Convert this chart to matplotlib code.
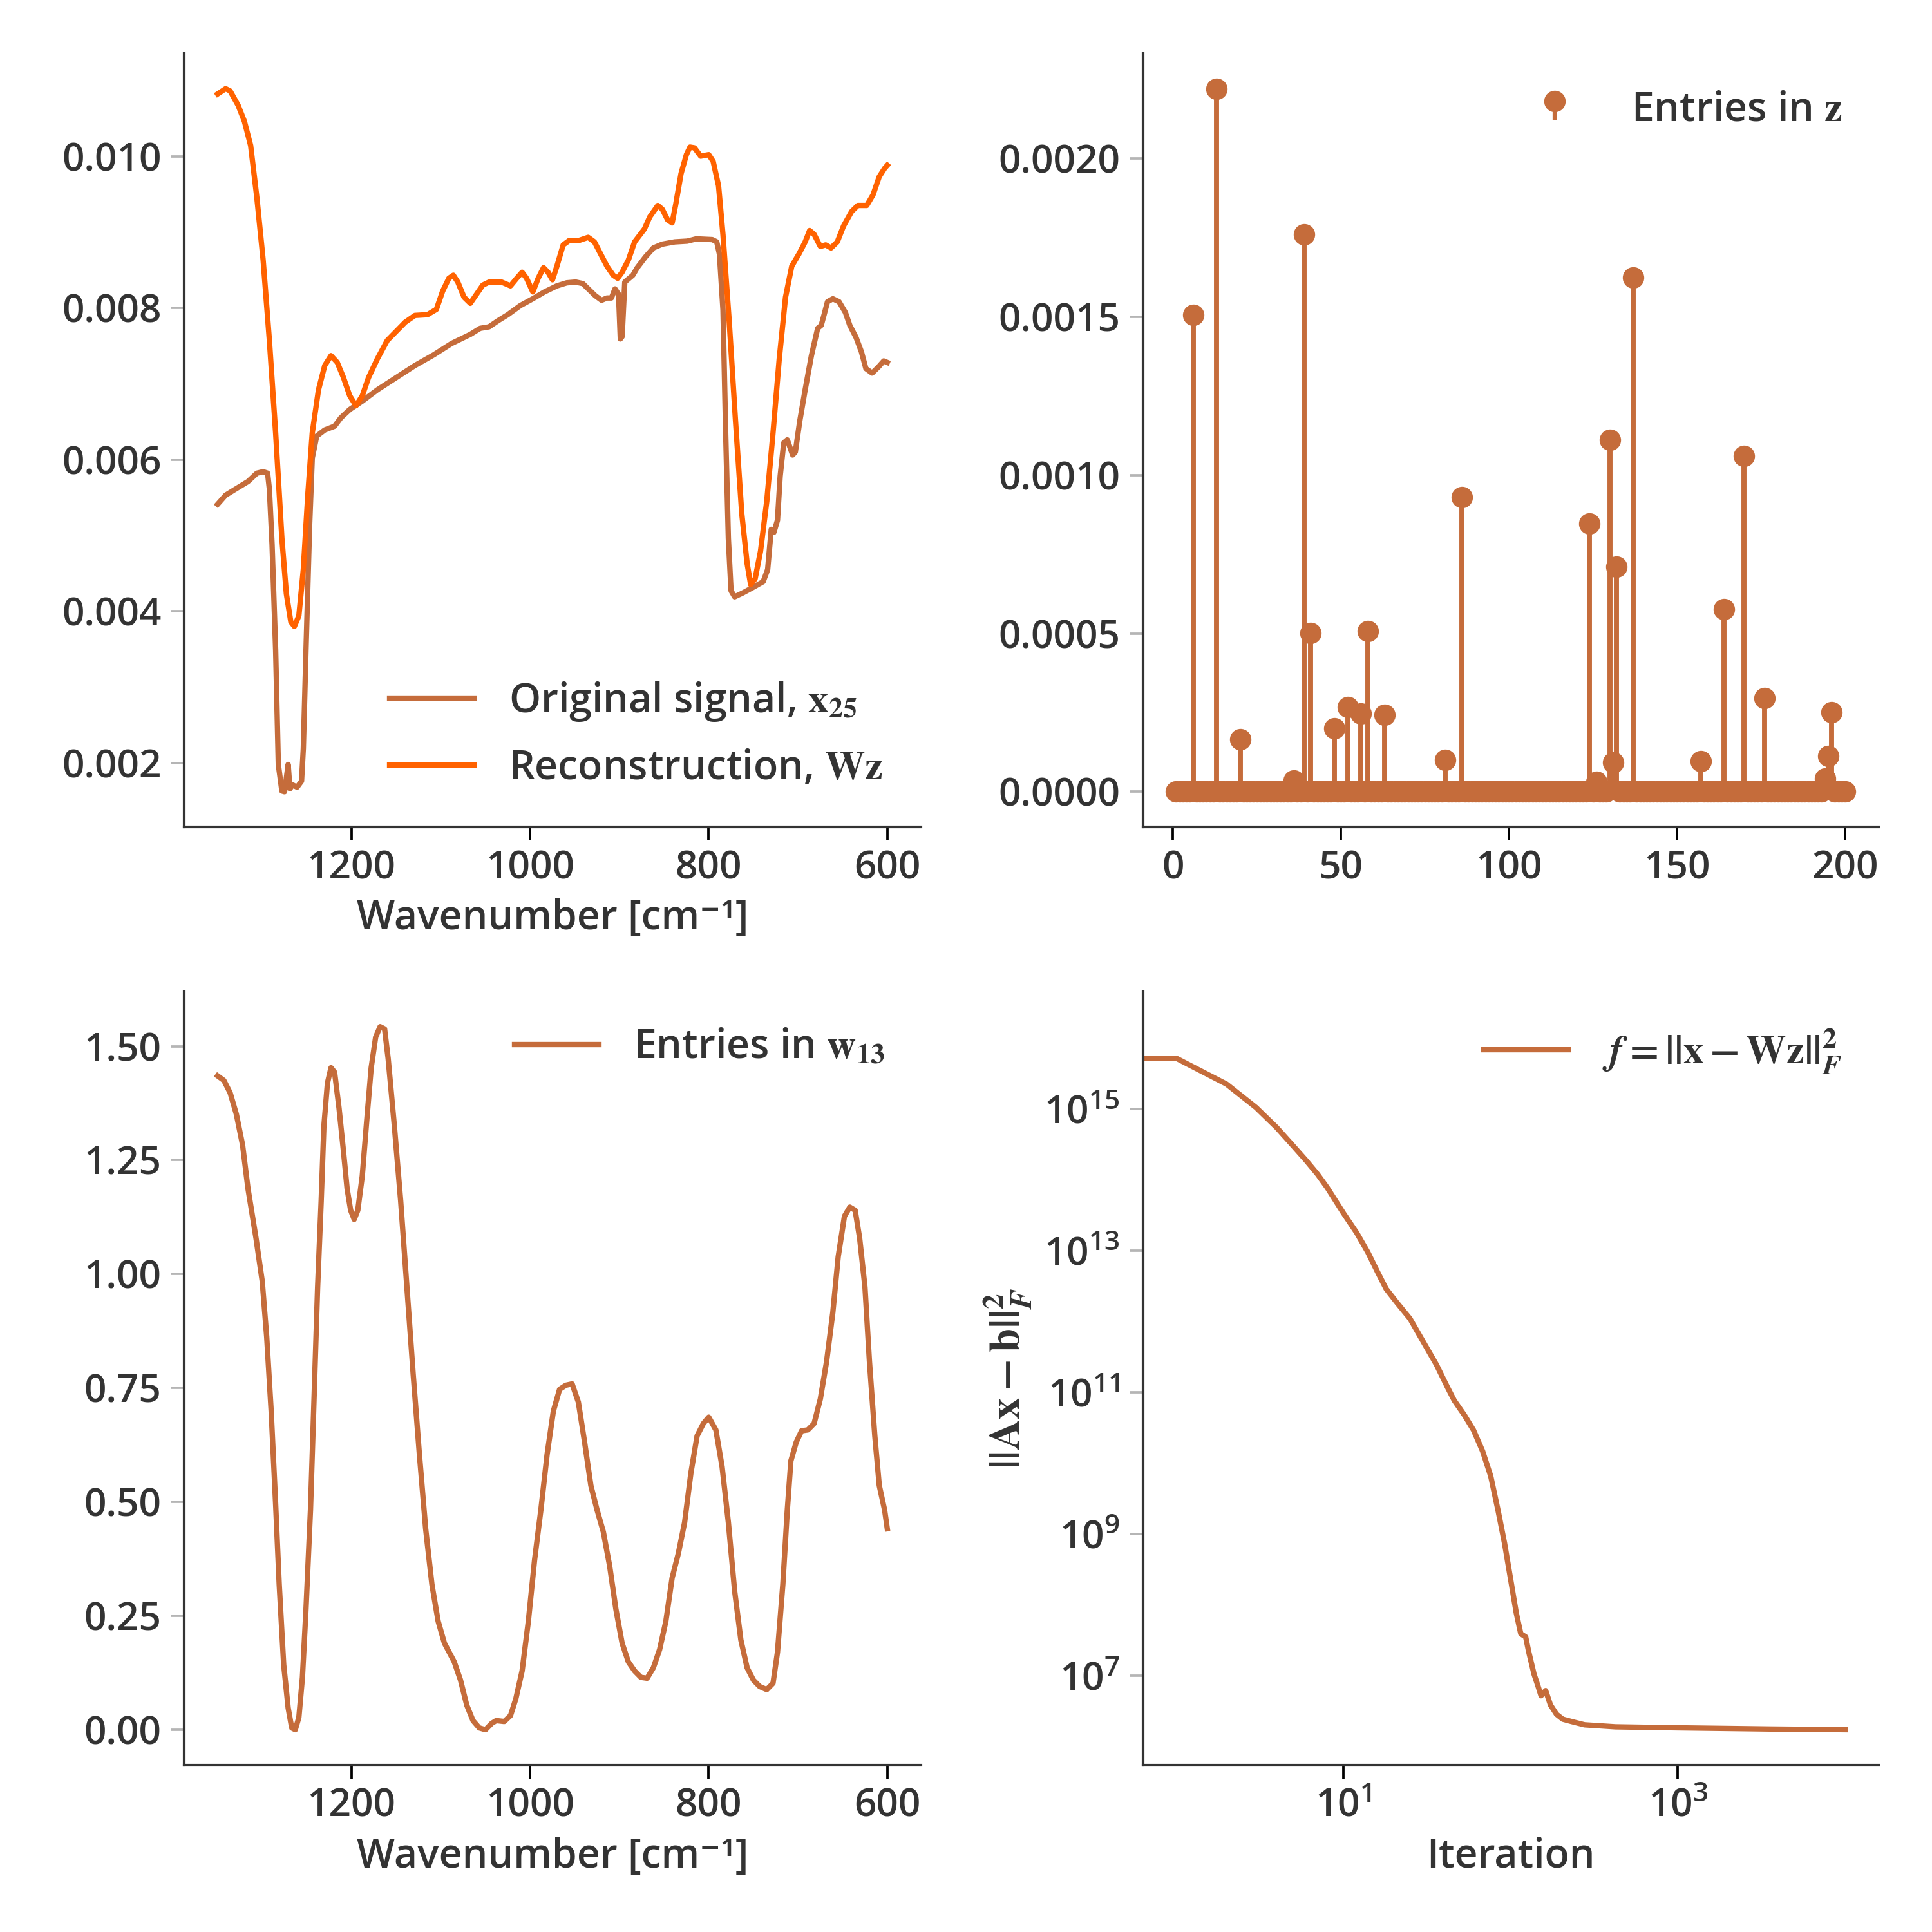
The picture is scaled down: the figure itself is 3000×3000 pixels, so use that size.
import numpy as np
import matplotlib
matplotlib.use("Agg")
import matplotlib.pyplot as plt
from matplotlib import font_manager
from matplotlib.ticker import FixedLocator, NullLocator, MultipleLocator

BROWN = "#c56c3b"
ORANGE = "#ff6200"
TEXT = "#333333"

# ---- top left: original signal x_25 and reconstruction Wz  (wavenumber, value)
orig_signal = [
    (1350, 0.00541), (1341, 0.00553), (1330, 0.00561), (1316, 0.00571), (1306, 0.00582),
    (1299, 0.00584), (1294, 0.00582), (1292, 0.00561), (1289, 0.00488), (1285, 0.00349),
    (1282, 0.00198), (1278, 0.00163), (1275, 0.00162), (1271, 0.00198), (1269, 0.00166),
    (1266, 0.00171), (1261, 0.00168), (1256, 0.00176), (1254, 0.00219), (1251, 0.00349),
    (1247, 0.00512), (1244, 0.00602), (1239, 0.00631), (1230, 0.00639), (1219, 0.00644),
    (1212, 0.00655), (1202, 0.00666), (1188, 0.00677), (1171, 0.00692), (1150, 0.00708),
    (1129, 0.00724), (1108, 0.00738), (1088, 0.00753), (1067, 0.00765), (1056, 0.00773),
    (1046, 0.00775), (1036, 0.00783), (1025, 0.00791), (1011, 0.00803), (997, 0.00812),
    (984, 0.00821), (970, 0.00829), (959, 0.00833), (949, 0.00834), (941, 0.00832),
    (934, 0.00824), (927, 0.00816), (920, 0.00810), (914, 0.00813), (909, 0.00813),
    (905, 0.00825), (901, 0.00818), (899, 0.00759), (897, 0.00762), (894, 0.00834),
    (885, 0.00843), (880, 0.00853), (871, 0.00867), (862, 0.00879), (852, 0.00884),
    (838, 0.00887), (824, 0.00888), (814, 0.00891), (796, 0.00890), (791, 0.00887),
    (788, 0.00871), (784, 0.00797), (781, 0.00635), (778, 0.00496), (775, 0.00427),
    (771, 0.00419), (762, 0.00424), (751, 0.00431), (739, 0.00439), (734, 0.00455),
    (730, 0.00508), (727, 0.00504), (723, 0.00520), (720, 0.00578), (716, 0.00622),
    (712, 0.00626), (706, 0.00606), (703, 0.00610), (698, 0.00651), (692, 0.00692),
    (685, 0.00737), (678, 0.00773), (674, 0.00777), (671, 0.00790), (667, 0.00808),
    (661, 0.00812), (654, 0.00808), (647, 0.00794), (642, 0.00777), (635, 0.00761),
    (629, 0.00742), (624, 0.00720), (617, 0.00714), (610, 0.00722), (604, 0.00730),
    (600, 0.00728),
]
reconstruction = [
    (1350, 0.01082), (1341, 0.01089), (1336, 0.01086), (1327, 0.01067), (1320, 0.01046),
    (1313, 0.01014), (1306, 0.00945), (1299, 0.00863), (1292, 0.00757), (1285, 0.00635),
    (1278, 0.00496), (1273, 0.00423), (1268, 0.00386), (1264, 0.00380), (1259, 0.00394),
    (1254, 0.00455), (1249, 0.00553), (1244, 0.00635), (1237, 0.00692), (1230, 0.00724),
    (1223, 0.00737), (1216, 0.00728), (1209, 0.00708), (1202, 0.00684), (1195, 0.00671),
    (1188, 0.00684), (1181, 0.00708), (1171, 0.00733), (1160, 0.00757), (1150, 0.00769),
    (1140, 0.00781), (1129, 0.00790), (1115, 0.00791), (1105, 0.00798), (1098, 0.00822),
    (1091, 0.00839), (1086, 0.00843), (1081, 0.00834), (1074, 0.00814), (1067, 0.00806),
    (1060, 0.00818), (1053, 0.00830), (1046, 0.00834), (1032, 0.00834), (1022, 0.00829),
    (1015, 0.00839), (1009, 0.00847), (1004, 0.00839), (997, 0.00821), (991, 0.00839),
    (985, 0.00853), (980, 0.00847), (975, 0.00837), (970, 0.00855), (963, 0.00883),
    (956, 0.00889), (945, 0.00889), (935, 0.00893), (928, 0.00887), (921, 0.00871),
    (914, 0.00855), (907, 0.00843), (902, 0.00839), (897, 0.00847), (890, 0.00863),
    (883, 0.00887), (872, 0.00904), (866, 0.00920), (857, 0.00935), (852, 0.00930),
    (846, 0.00916), (841, 0.00912), (837, 0.00936), (831, 0.00977), (825, 0.01002),
    (821, 0.01012), (816, 0.01011), (809, 0.01000), (800, 0.01002), (795, 0.00993),
    (789, 0.00961), (784, 0.00896), (777, 0.00781), (770, 0.00651), (763, 0.00529),
    (757, 0.00463), (753, 0.00435), (748, 0.00443), (742, 0.00479), (735, 0.00545),
    (728, 0.00635), (721, 0.00733), (714, 0.00814), (707, 0.00855), (699, 0.00871),
    (692, 0.00887), (687, 0.00902), (682, 0.00897), (675, 0.00881), (669, 0.00883),
    (663, 0.00879), (656, 0.00887), (649, 0.00908), (640, 0.00927), (633, 0.00935),
    (623, 0.00935), (616, 0.00949), (609, 0.00973), (603, 0.00984), (600, 0.00988),
]

# ---- top right: nonzero entries of z (index, value); every other index is 0
z_length = 200
z_nonzero = [
    (6, 0.001507), (13, 0.002221), (20, 0.000166), (36, 0.000035), (39, 0.001760),
    (41, 0.000502), (48, 0.000201), (52, 0.000268), (56, 0.000246), (58, 0.000508),
    (63, 0.000242), (81, 0.000100), (86, 0.000931), (124, 0.000847), (126, 0.000031),
    (130, 0.001112), (131, 0.000092), (132, 0.000710), (137, 0.001625), (157, 0.000096),
    (164, 0.000577), (170, 0.001060), (176, 0.000295), (194, 0.000041), (195, 0.000113),
    (196, 0.000252),
]

# ---- bottom left: dictionary atom w_13 (wavenumber, value)
atom_w13 = [
    (1350, 1.435), (1343, 1.425), (1336, 1.398), (1329, 1.351), (1322, 1.283),
    (1316, 1.188), (1307, 1.079), (1300, 0.984), (1295, 0.862), (1290, 0.699),
    (1285, 0.495), (1281, 0.319), (1276, 0.143), (1271, 0.048), (1267, 0.004),
    (1263, 0.000), (1259, 0.027), (1255, 0.115), (1251, 0.265), (1246, 0.482),
    (1242, 0.726), (1238, 0.971), (1234, 1.161), (1231, 1.324), (1227, 1.419),
    (1223, 1.453), (1219, 1.443), (1214, 1.364), (1209, 1.269), (1205, 1.188),
    (1201, 1.140), (1197, 1.120), (1193, 1.140), (1188, 1.215), (1183, 1.337),
    (1178, 1.453), (1173, 1.520), (1168, 1.543), (1163, 1.538), (1159, 1.473),
    (1152, 1.324), (1145, 1.161), (1138, 0.971), (1131, 0.781), (1124, 0.604),
    (1117, 0.441), (1110, 0.319), (1103, 0.238), (1096, 0.190), (1085, 0.149),
    (1078, 0.109), (1071, 0.054), (1064, 0.020), (1057, 0.004), (1050, 0.000),
    (1043, 0.014), (1038, 0.020), (1029, 0.018), (1022, 0.031), (1016, 0.068),
    (1009, 0.129), (1002, 0.238), (995, 0.373), (988, 0.482), (981, 0.604),
    (974, 0.699), (967, 0.747), (960, 0.756), (953, 0.759), (946, 0.719),
    (939, 0.631), (932, 0.536), (925, 0.482), (918, 0.434), (911, 0.360),
    (904, 0.265), (897, 0.190), (890, 0.149), (883, 0.129), (876, 0.115),
    (869, 0.113), (862, 0.136), (855, 0.176), (848, 0.238), (841, 0.333),
    (834, 0.387), (827, 0.455), (820, 0.563), (813, 0.645), (806, 0.672),
    (800, 0.686), (792, 0.658), (785, 0.577), (778, 0.455), (771, 0.305),
    (764, 0.197), (757, 0.136), (750, 0.109), (743, 0.095), (735, 0.088),
    (728, 0.102), (723, 0.170), (717, 0.319), (712, 0.482), (708, 0.590),
    (702, 0.631), (696, 0.656), (689, 0.658), (682, 0.672), (675, 0.726),
    (668, 0.808), (661, 0.916), (655, 1.038), (648, 1.127), (642, 1.147),
    (636, 1.140), (631, 1.079), (625, 0.971), (620, 0.808), (614, 0.645),
    (609, 0.536), (603, 0.482), (600, 0.441),
]

# ---- bottom right: objective per iteration
loss_iter = [0, 1, 2, 3, 4, 5, 6, 7, 8, 10, 12, 14, 16, 18, 21, 25, 30, 36, 42, 46,
             53, 60, 68, 76, 84, 92, 100, 108, 115, 123, 128, 138, 146, 152, 162, 173,
             188, 205, 233, 277, 424, 991, 3557, 10000]
loss_value = [1.45e16, 5.2e15, 2.24e15, 1.05e15, 5.43e14, 3.02e14, 1.86e14, 1.20e14,
              7.76e13, 3.39e13, 1.79e13, 9.5e12, 5.0e12, 2.9e12, 1.82e12, 1.10e12,
              5.2e11, 2.46e11, 1.17e11, 7.7e10, 4.75e10, 2.93e10, 1.48e10, 6.6e9,
              2.19e9, 7.4e8, 2.3e8, 7.8e7, 3.93e7, 3.55e7, 2.24e7, 1.06e7, 7.1e6,
              5.25e6, 6.2e6, 3.9e6, 2.88e6, 2.45e6, 2.26e6, 2.04e6, 1.91e6, 1.85e6,
              1.78e6, 1.74e6]


def pick_font():
    # look for a real semibold face; fall back to bold
    def w(entry):
        if isinstance(entry.weight, str):
            return {"semibold": 600, "demibold": 600, "bold": 700}.get(entry.weight, 400)
        return entry.weight
    for fam in ["Source Sans Pro", "Source Sans 3", "Noto Sans", "Open Sans", "Lato", "Inter"]:
        for f in font_manager.fontManager.ttflist:
            if f.name == fam and f.style == "normal" and w(f) == 600:
                return fam, 600
    return "Noto Sans", "bold"


FONT, WEIGHT = pick_font()

plt.rcParams.update({
    "font.family": [FONT, "DejaVu Sans"],
    "font.weight": WEIGHT,
    "mathtext.fontset": "stix",
    "text.color": TEXT,
    "axes.labelcolor": TEXT,
    "axes.labelweight": WEIGHT,
    "xtick.labelcolor": TEXT,
    "ytick.labelcolor": TEXT,
    "font.size": 14.5,
    "axes.labelsize": 15,
    "legend.fontsize": 15,
})

# double bar for the norms, drawn from two single bars
NORM = r"||"


def style_axes(ax):
    for side in ("top", "right"):
        ax.spines[side].set_visible(False)
    for side in ("left", "bottom"):
        ax.spines[side].set_color(TEXT)
        ax.spines[side].set_linewidth(1.0)
    ax.tick_params(axis="y", color="#b5b5b5", length=5, width=0.9, labelsize=14.5)
    ax.tick_params(axis="x", color="black", length=5, width=0.9, labelsize=14.5)


def add_legend(ax, loc, math_only=False, **kw):
    leg = ax.legend(loc=loc, frameon=False, handlelength=2.1, handletextpad=0.85, **kw)
    if math_only:
        for t in leg.get_texts():
            t.set_fontweight("normal")
    return leg


LW = 2.0
fig = plt.figure(figsize=(10, 10), dpi=300)
ax_sig = fig.add_axes([0.0953, 0.572, 0.3813, 0.4003])
ax_z = fig.add_axes([0.5915, 0.572, 0.3808, 0.4003])
ax_w = fig.add_axes([0.0953, 0.0865, 0.3813, 0.4003])
ax_loss = fig.add_axes([0.5915, 0.0865, 0.3808, 0.4003])

# ---- Panel 1: signal and reconstruction ----
wn_o, val_o = np.array(orig_signal).T
wn_r, val_r = np.array(reconstruction).T
ax_sig.plot(wn_o, val_o, color=BROWN, lw=LW, label=r"Original signal, $\mathbf{x}_{25}$")
ax_sig.plot(wn_r, val_r, color=ORANGE, lw=LW, label=r"Reconstruction, $\mathbf{Wz}$")
ax_sig.invert_xaxis()
ax_sig.set_xlabel("Wavenumber [cm⁻¹]")
add_legend(ax_sig, "lower right", labelspacing=0.62, borderaxespad=0.55)
style_axes(ax_sig)

# ---- Panel 2: sparse code z ----
z = np.zeros(z_length)
for idx, val in z_nonzero:
    z[idx - 1] = val
z_index = np.arange(1, z_length + 1)
markers, stems, base = ax_z.stem(z_index, z, basefmt=" ", label=r"Entries in $\mathbf{z}$")
markers.set_color(BROWN)
markers.set_markersize(7)
stems.set_color(BROWN)
stems.set_linewidth(1.9)
add_legend(ax_z, "upper right")
style_axes(ax_z)

# ---- Panel 3: atom w_13 ----
wn_w, val_w = np.array(atom_w13).T
ax_w.plot(wn_w, val_w, color=BROWN, lw=LW, label=r"Entries in $\mathbf{w}_{13}$")
ax_w.invert_xaxis()
ax_w.yaxis.set_major_locator(MultipleLocator(0.25))
ax_w.set_xlabel("Wavenumber [cm⁻¹]")
add_legend(ax_w, "upper right")
style_axes(ax_w)

# ---- Panel 4: convergence ----
ax_loss.plot(loss_iter, loss_value, color=BROWN, lw=LW,
             label=r"$f = " + NORM + r"\mathbf{x} - \mathbf{W}\mathbf{z}" + NORM + r"_F^2$")
ax_loss.set_xscale("log")
ax_loss.set_yscale("log")
ax_loss.xaxis.set_major_locator(FixedLocator([1e1, 1e3]))
ax_loss.yaxis.set_major_locator(FixedLocator([1e7, 1e9, 1e11, 1e13, 1e15]))
ax_loss.xaxis.set_minor_locator(NullLocator())
ax_loss.yaxis.set_minor_locator(NullLocator())
ax_loss.set_xlabel("Iteration")
ax_loss.set_ylabel(r"$" + NORM + r"\mathbf{A}\mathbf{x} - \mathbf{b}" + NORM + r"_F^2$",
                   fontweight="normal", fontsize=16)
add_legend(ax_loss, "upper right", math_only=True)
style_axes(ax_loss)

fig.savefig("out.png", dpi=300)
